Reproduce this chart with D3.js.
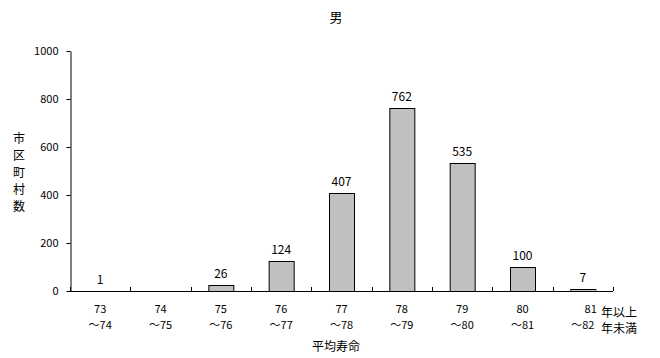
<!DOCTYPE html>
<html><head><meta charset="utf-8">
<script src="https://cdn.jsdelivr.net/npm/d3@7"></script>
<style>
body{margin:0;background:#fff;}
text{font-family:"Noto Sans CJK JP","DejaVu Sans",sans-serif;fill:#000;}
</style></head>
<body><svg id="c" width="660" height="358"></svg>
<script>
const fromYears = ["73","74","75","76","77","78","79","80","81"];
const toYears = ["74","75","76","77","78","79","80","81","82"];
const values = [1,0,26,124,407,762,535,100,7];
const yTicks = [0,200,400,600,800,1000];
const title = "男";
const yTitle = ["市","区","町","村","数"];
const xTitle = "平均寿命";
const unitTop = "年以上", unitBottom = "年未満";

const svg = d3.select("#c");
const m = {l:70, r:47, t:51, b:67};
const W = 660, H = 358;
const x = d3.scaleBand().domain(fromYears).range([m.l, W-m.r]).paddingInner(0).paddingOuter(0);
const y = d3.scaleLinear().domain([0,1000]).range([H-m.b, m.t]);
const bw = 25;
const rows = values.map((v,i)=>({c:fromYears[i], v}));
const numFont = "'DejaVu Sans Condensed','DejaVu Sans',sans-serif";

svg.append("text").attr("x",336).attr("y",22).attr("text-anchor","middle").attr("font-size",13).text(title);

// bars
svg.selectAll("rect.bar").data(rows).join("rect")
 .attr("x",d=>x(d.c)+x.bandwidth()/2-bw/2+0.5)
 .attr("y",d=>Math.round(y(d.v))+0.5)
 .attr("width",bw)
 .attr("height",d=>Math.max(0,y(0)-Math.round(y(d.v))))
 .attr("fill","#c0c0c0").attr("stroke","#000").attr("stroke-width",1);

// value labels
svg.selectAll("text.val").data(rows.filter(d=>d.v>0)).join("text")
 .attr("x",d=>x(d.c)+x.bandwidth()/2)
 .attr("y",d=>y(d.v)-7)
 .attr("text-anchor","middle").attr("font-size",12).attr("font-family",numFont).text(d=>d.v);

// y axis
const ya = svg.append("g").attr("transform",`translate(${m.l+0.5},0)`)
 .call(d3.axisLeft(y).tickValues(yTicks).tickFormat(d3.format("d")).tickSize(4).tickPadding(8).tickSizeOuter(0));
ya.select(".domain").attr("stroke","#000");
ya.selectAll("text").attr("font-size",11).attr("font-family",numFont);

// x axis
const xb = [...fromYears.map(c=>x(c)), x.range()[1]];
const xg = svg.append("g");
xg.append("line").attr("x1",m.l).attr("x2",W-m.r).attr("y1",y(0)+0.5).attr("y2",y(0)+0.5).attr("stroke","#000");
xg.selectAll("line.t").data(xb).join("line")
 .attr("x1",d=>Math.round(d)+0.5).attr("x2",d=>Math.round(d)+0.5)
 .attr("y1",y(0)-4).attr("y2",y(0)).attr("stroke","#000");

const lab = svg.append("g").attr("font-size",11);
fromYears.forEach((c,i)=>{
  const cx = x(c)+x.bandwidth()/2;
  const last = i===fromYears.length-1;
  lab.append("text").attr("x", last? cx+14 : cx).attr("y",313)
    .attr("text-anchor", last? "end":"middle")
    .attr("font-family",numFont).text(c);
  lab.append("text").attr("x",cx).attr("y",329).attr("text-anchor","middle")
    .attr("font-family",numFont)
    .text("～"+toYears[i]);
});
svg.append("text").attr("x",601).attr("y",317).attr("font-size",12).text(unitTop);
svg.append("text").attr("x",601).attr("y",333).attr("font-size",12).text(unitBottom);

svg.append("text").attr("x",336).attr("y",351).attr("text-anchor","middle").attr("font-size",12).text(xTitle);

yTitle.forEach((ch,i)=>{
  svg.append("text").attr("x",19).attr("y",143+i*17).attr("text-anchor","middle").attr("font-size",12).text(ch);
});
</script></body></html>
